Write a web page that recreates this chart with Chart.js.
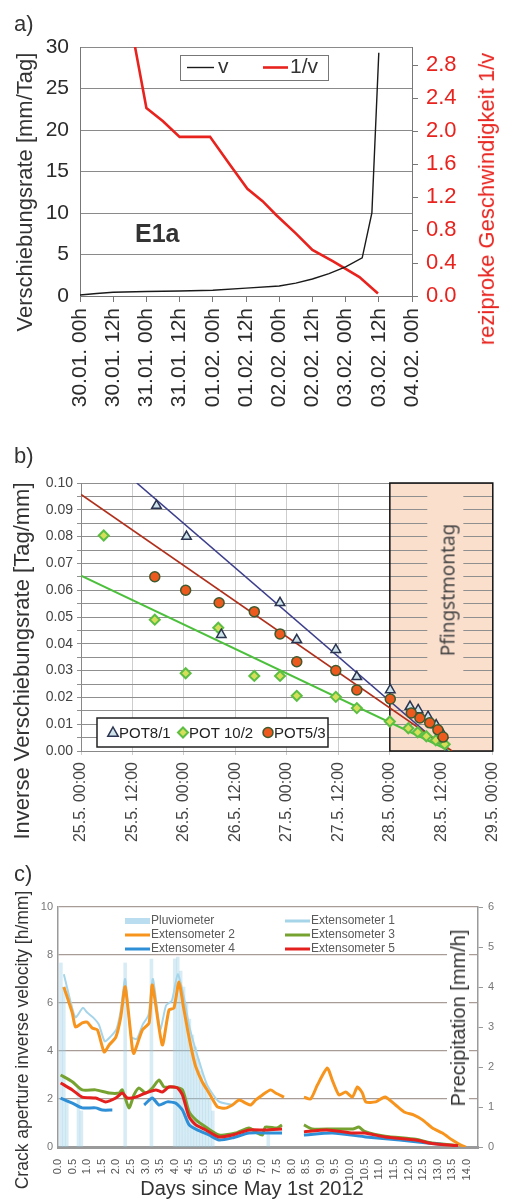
<!DOCTYPE html>
<html>
<head>
<meta charset="utf-8">
<script src="https://cdn.jsdelivr.net/npm/chart.js@4.4.1/dist/chart.umd.min.js"></script>
<style>
  html, body { margin: 0; padding: 0; background: #fff; }
  body { width: 519px; height: 1199px; position: relative; overflow: hidden; font-family: "Liberation Sans", Arial, sans-serif; color: #333; }
  canvas { position: absolute; left: 0; }
  .txt { position: absolute; white-space: nowrap; line-height: 1.1; }
  .rot { position: absolute; white-space: nowrap; line-height: 1.1; transform: translate(-50%, -50%) rotate(-90deg); }
</style>
</head>
<body>
<canvas id="chartA" style="top:0" width="519" height="430"></canvas>
<canvas id="chartB" style="top:440px" width="519" height="430"></canvas>
<canvas id="chartC" style="top:870px" width="519" height="329"></canvas>

<div class="txt" style="left:14px;top:12px;font-size:22px;">a)</div>
<div class="rot" style="left:25px;top:192px;font-size:22px;">Verschiebungsrate [mm/Tag]</div>
<div class="rot" style="left:487px;top:199px;font-size:22px;color:#e8231e;">reziproke Geschwindigkeit 1/v</div>
<div class="txt" style="left:135px;top:220px;font-size:25px;font-weight:bold;">E1a</div>

<div class="txt" style="left:14px;top:444px;font-size:22px;">b)</div>
<div class="rot" style="left:22px;top:661px;font-size:22px;">Inverse Verschiebungsrate [Tag/mm]</div>
<div class="rot" style="left:448px;top:590px;font-size:19px;font-family:'Noto Sans',sans-serif;color:#444;">Pfingstmontag</div>

<div class="txt" style="left:14px;top:862px;font-size:22px;">c)</div>
<div class="rot" style="left:23px;top:1040px;font-size:17.5px;">Crack aperture inverse velocity [h/mm]</div>
<div class="rot" style="left:458px;top:1018px;font-size:20px;background:#fff;padding:0 6px;">Precipitation [mm/h]</div>
<div class="txt" style="left:252px;top:1188px;font-size:20px;transform:translate(-50%,-50%);">Days since May 1st 2012</div>

<script>
// ---- a) E1a: velocity and inverse velocity (hours since 30.01. 00h)
const aTickLabels = ['30.01. 00h', '30.01. 12h', '31.01. 00h', '31.01. 12h', '01.02. 00h', '01.02. 12h',
  '02.02. 00h', '02.02. 12h', '03.02. 00h', '03.02. 12h', '04.02. 00h'];
const aRightTicks = [0, 0.4, 0.8, 1.2, 1.6, 2.0, 2.4, 2.8];
const vHours = [0, 6, 12, 24, 36, 48, 60, 72, 78, 84, 90, 96, 102, 105.5, 108];
const vValues = [0.12, 0.3, 0.45, 0.55, 0.6, 0.7, 0.95, 1.2, 1.55, 2.05, 2.7, 3.5, 4.6, 10, 29.3];
const invHours = [19.9, 24, 30, 36, 47, 54, 60.5, 66, 71, 78, 84, 91.5, 101, 107.7];
const invValues = [3.02, 2.28, 2.12, 1.93, 1.93, 1.6, 1.3, 1.15, 0.98, 0.76, 0.56, 0.42, 0.23, 0.03];

// ---- b) inverse velocity of the potentiometers (hours since 25.5. 00:00)
const bTickLabels = ['25.5. 00:00', '25.5. 12:00', '26.5. 00:00', '26.5. 12:00', '27.5. 00:00',
  '27.5. 12:00', '28.5. 00:00', '28.5. 12:00', '29.5. 00:00'];
const pot81Hours = [17.6, 24.6, 32.7, 46.4, 50.3, 59.4, 64.3, 72.1, 76.7, 78.6, 80.9, 82.8, 84.4];
const pot81Values = [0.0916, 0.080, 0.0434, 0.0553, 0.0415, 0.0378, 0.0277, 0.0228, 0.0166, 0.0153, 0.0128, 0.0097, 0.006];
const pot102Hours = [5.3, 17.2, 24.4, 32.0, 40.4, 46.4, 50.3, 59.4, 64.3, 72.0, 76.3, 78.5, 80.5, 82.7, 84.8];
const pot102Values = [0.0804, 0.049, 0.029, 0.046, 0.028, 0.028, 0.0206, 0.0202, 0.016, 0.011, 0.0085, 0.007, 0.0055, 0.004, 0.0025];
const pot53Hours = [17.2, 24.4, 32.2, 40.4, 46.4, 50.3, 59.4, 64.3, 72.1, 77.0, 79.0, 81.3, 83.2, 84.4];
const pot53Values = [0.065, 0.060, 0.0553, 0.052, 0.0437, 0.0333, 0.030, 0.0228, 0.0194, 0.0142, 0.0123, 0.0105, 0.0079, 0.0052];
const trend81Hours = [13, 85.5];
const trend81Values = [0.1, 0];
const trend53Hours = [0, 86.5];
const trend53Values = [0.0957, 0];
const trend102Hours = [0, 86];
const trend102Values = [0.0654, 0];
const holidayStart = 72; // 28.5. 00:00
const holidayEnd = 96;   // 29.5. 00:00

// ---- c) crack aperture inverse velocity and rain (days since May 1st 2012)
const cLastTick = 14;
const plDays = [0.1, 0.2, 0.3, 0.7, 0.8, 2.3, 3.2, 4.0, 4.1, 4.2, 4.3, 4.4, 4.5, 4.6, 4.7, 4.8, 4.9, 5.0, 5.1, 5.2, 5.3, 7.2];
const plVals = [4.6, 4.0, 1.2, 1.5, 0.9, 4.6, 4.7, 4.7, 4.75, 4.4, 4.0, 3.6, 3.2, 2.8, 2.5, 2.2, 1.9, 1.6, 1.4, 1.2, 0.9, 0.5];
const ext1Days = [0.2, 0.4, 0.6, 0.85, 1.0, 1.2, 1.4, 1.6, 1.8, 2.0, 2.15, 2.3, 2.5, 2.7, 2.9, 3.1, 3.25, 3.5, 3.7, 3.9, 4.1, 4.3, 4.5, 4.8, 5.1, 5.5, 6.0];
const ext1Vals = [7.2, 6.2, 5.4, 5.8, 5.6, 5.4, 5.1, 4.4, 4.6, 4.9, 5.7, 7.0, 4.6, 4.5, 5.1, 5.5, 7.0, 4.9, 5.9, 6.1, 7.2, 6.3, 5.0, 3.7, 2.6, 1.9, 1.75];
const ext2Days = [0.2, 0.49, 0.6, 0.83, 1.0, 1.17, 1.35, 1.58, 1.75, 1.98, 2.15, 2.3, 2.55, 2.6, 2.89, 3.12, 3.23, 3.57,
  3.8, 3.97, 4.14, 4.3, 4.45, 4.6, 4.72, 4.94, 5.17, 5.46, 5.74, 5.97, 6.2, 6.43, 6.6, 6.77, 7.0, 7.28, 7.45, 7.74,
  8.0, 8.42, 8.65, 8.88, 9.22, 9.39, 9.62, 9.85, 10.08, 10.25, 10.42, 10.54, 10.88, 11.1, 11.22, 11.56, 11.85, 12.19,
  12.48, 12.82, 13.16, 13.5, 13.79, 13.96];
const ext2Vals = [6.67, 5.58, 5.0, 5.17, 5.2, 4.96, 4.88, 3.96, 4.25, 4.58, 5.42, 6.67, 4.04, 3.9, 4.88, 5.17, 6.75, 4.25,
  5.71, 5.79, 6.88, 5.8, 4.8, 3.9, 3.33, 2.71, 2.25, 1.67, 1.62, 1.75, 1.96, 1.83, 1.75, 1.96, 2.17, 2.38, 2.25, 2.08,
  null, 2.08, 2.0, 2.58, 3.29, 2.79, 2.17, 2.29, 2.08, 2.5, 2.25, 1.88, 1.88, 2.04, 2.08, 1.75, 1.46, 1.33,
  1.13, 0.79, 0.58, 0.29, 0.08, 0.0];
const ext3Days = [0.09, 0.49, 0.83, 1.29, 1.75, 2.09, 2.2, 2.43, 2.6, 2.77, 3.0, 3.23, 3.46, 3.63, 3.97, 4.26, 4.49, 4.72,
  5.06, 5.51, 6.08, 6.54, 6.8, 7.0, 7.1, 7.5, 7.67, 8.0, 8.42, 8.7, 9.4, 10.1, 10.3, 10.5, 11.2, 12.25, 12.8, 13.7];
const ext3Vals = [3.0, 2.72, 2.38, 2.38, 2.25, 2.25, 2.38, 1.63, 2.17, 2.46, 2.25, 2.46, 2.79, 2.5, 2.5, 2.38, 1.46, 1.13,
  0.83, 0.5, 0.58, 0.79, 0.6, 0.5, 0.83, 0.79, 0.92, null, 0.92, 0.75, 0.75, 0.75, 0.83, 0.65, 0.45, 0.32, 0.17, 0.06];
const ext4Days = [0.09, 0.49, 0.83, 1.29, 1.52, 1.86, 2.4, 2.95, 3.23, 3.46, 3.74, 4.03, 4.26, 4.49, 4.77, 5.17, 5.51,
  5.97, 6.54, 7.3, 7.67, 8.0, 8.42, 9.4, 10.54, 11.7, 12.8, 13.2];
const ext4Vals = [2.04, 1.83, 1.63, 1.63, 1.54, 1.54, null, 1.75, 2.04, 1.75, 1.88, 1.83, 1.54, 0.92, 0.71, 0.5, 0.29,
  0.38, 0.58, 0.58, 0.58, null, 0.5, 0.58, 0.42, 0.29, 0.15, 0.1];
const ext5Days = [0.09, 0.49, 0.83, 1.29, 1.63, 1.98, 2.2, 2.37, 2.66, 3.0, 3.35, 3.57, 3.8, 4.09, 4.26, 4.49, 4.72, 5.06,
  5.51, 5.97, 6.54, 7.1, 7.67, 8.0, 8.42, 9.2, 10.1, 10.5, 11.2, 12.25, 12.8, 13.7];
const ext5Vals = [2.67, 2.38, 2.08, 2.04, 1.88, 2.04, 2.25, 2.04, 2.08, 2.25, 2.38, 2.29, 2.5, 2.46, 2.17, 1.25, 0.92, 0.71,
  0.42, 0.5, 0.71, 0.71, 0.75, null, 0.63, 0.71, 0.58, 0.58, 0.42, 0.29, 0.15, 0.05];

const FONT = '"Liberation Sans", Arial, sans-serif';
Chart.defaults.font.family = FONT;

const pts = (xs, ys) => xs.map((x, i) => ({ x: x, y: ys[i] }));

function hLine(ctx, x1, x2, y, color, width) {
  ctx.strokeStyle = color;
  ctx.lineWidth = width;
  ctx.beginPath();
  ctx.moveTo(x1, y);
  ctx.lineTo(x2, y);
  ctx.stroke();
}

function marker(ctx, style, x, y, r, fill, stroke, lw) {
  ctx.fillStyle = fill;
  ctx.strokeStyle = stroke;
  ctx.lineWidth = lw;
  ctx.beginPath();
  if (style === 'triangle') {
    ctx.moveTo(x, y - r);
    ctx.lineTo(x + r * 0.95, y + r * 0.7);
    ctx.lineTo(x - r * 0.95, y + r * 0.7);
    ctx.closePath();
  } else if (style === 'rectRot') {
    ctx.moveTo(x, y - r);
    ctx.lineTo(x + r, y);
    ctx.lineTo(x, y + r);
    ctx.lineTo(x - r, y);
    ctx.closePath();
  } else {
    ctx.arc(x, y, r, 0, Math.PI * 2);
  }
  ctx.fill();
  ctx.stroke();
}

// legend box inside panel a
const legendA = {
  id: 'legendA',
  afterDatasetsDraw(chart) {
    const { ctx, chartArea: ca } = chart;
    const ds = chart.data.datasets;
    const x0 = ca.left + 100, y0 = ca.top + 8, w = 148, h = 25;
    const ym = y0 + h / 2;
    ctx.save();
    ctx.fillStyle = '#fff';
    ctx.fillRect(x0, y0, w, h);
    ctx.strokeStyle = '#777';
    ctx.lineWidth = 1;
    ctx.strokeRect(x0 + 0.5, y0 + 0.5, w, h);
    ctx.font = '21px ' + FONT;
    ctx.textBaseline = 'middle';
    hLine(ctx, x0 + 7, x0 + 34, ym, ds[0].borderColor, 1.4);
    ctx.fillStyle = '#333';
    ctx.fillText(ds[0].label, x0 + 38, ym);
    hLine(ctx, x0 + 83, x0 + 108, ym, ds[1].borderColor, 2.6);
    ctx.fillStyle = '#333';
    ctx.fillText(ds[1].label, x0 + 110, ym);
    ctx.restore();
  }
};

new Chart(document.getElementById('chartA'), {
  type: 'line',
  data: {
    datasets: [
      { label: 'v', data: pts(vHours, vValues), borderColor: '#1a1a1a', borderWidth: 1.4, pointRadius: 0, yAxisID: 'y' },
      { label: '1/v', data: pts(invHours, invValues), borderColor: '#e8231e', borderWidth: 2.6, pointRadius: 0, yAxisID: 'y1' }
    ]
  },
  options: {
    responsive: false,
    animation: false,
    devicePixelRatio: 1,
    layout: { padding: { top: 47, left: 0, right: 0, bottom: 0 } },
    plugins: { legend: { display: false }, tooltip: { enabled: false } },
    scales: {
      x: {
        type: 'linear', min: 0, max: 120,
        afterFit: s => { s.height = 134; },
        ticks: {
          stepSize: 12, autoSkip: false, minRotation: 90, maxRotation: 90, padding: 6,
          color: '#2b2b2b', font: { size: 21 },
          callback: v => aTickLabels[Math.round(v / 12)]
        },
        grid: { drawOnChartArea: false, tickLength: 6, color: '#777' },
        border: { color: '#777' }
      },
      y: {
        position: 'left', min: 0, max: 30,
        afterFit: s => { s.width = 80; },
        ticks: { stepSize: 5, padding: 11, color: '#2b2b2b', font: { size: 21 } },
        grid: { color: '#8a8a8a', drawTicks: false },
        border: { color: '#777' }
      },
      y1: {
        position: 'right', min: 0, max: 3.02,
        afterFit: s => { s.width = 107; },
        afterBuildTicks: s => { s.ticks = aRightTicks.map(v => ({ value: v })); },
        ticks: { padding: 8, color: '#e8231e', font: { size: 22 }, callback: v => v.toFixed(1) },
        grid: { drawOnChartArea: false, tickLength: 6, color: '#777' },
        border: { color: '#777' }
      }
    }
  },
  plugins: [legendA]
});

// Pfingstmontag shading for panel b
const holidayBox = {
  id: 'holidayBox',
  beforeDraw(chart) {
    const { ctx, chartArea: ca, scales: { x } } = chart;
    const x1 = x.getPixelForValue(holidayStart), x2 = x.getPixelForValue(holidayEnd);
    ctx.save();
    ctx.fillStyle = '#fbdfcd';
    ctx.fillRect(x1, ca.top, x2 - x1, ca.bottom - ca.top);
    ctx.restore();
  },
  beforeDatasetsDraw(chart) {
    const { ctx, chartArea: ca, scales: { x, y } } = chart;
    const x1 = x.getPixelForValue(holidayStart), x2 = x.getPixelForValue(holidayEnd);
    const mid = (x1 + x2) / 2 + 4;
    ctx.save();
    ctx.fillStyle = '#fbdfcd';
    ctx.fillRect(mid - 18, ca.top + 2, 36, y.getPixelForValue(0.03) - ca.top);
    ctx.strokeStyle = '#111';
    ctx.lineWidth = 1.5;
    ctx.strokeRect(x1, ca.top, x2 - x1, ca.bottom - ca.top);
    ctx.restore();
  }
};

const legendB = {
  id: 'legendB',
  afterDatasetsDraw(chart) {
    const { ctx, chartArea: ca } = chart;
    const ds = chart.data.datasets;
    const x0 = ca.left + 16, y0 = ca.bottom - 33, w = 231, h = 29;
    const ym = y0 + h / 2;
    ctx.save();
    ctx.fillStyle = '#fff';
    ctx.fillRect(x0, y0, w, h);
    ctx.strokeStyle = '#222';
    ctx.lineWidth = 1.5;
    ctx.strokeRect(x0, y0, w, h);
    ctx.font = '15px ' + FONT;
    ctx.textBaseline = 'middle';
    const slots = [16, 86, 171];
    for (let i = 0; i < 3; i++) {
      const d = ds[i];
      marker(ctx, d.pointStyle, x0 + slots[i], ym, d.pointRadius, d.backgroundColor, d.borderColor, d.borderWidth);
      ctx.fillStyle = '#222';
      ctx.fillText(d.label, x0 + slots[i] + 6, ym + 1);
    }
    ctx.restore();
  }
};

new Chart(document.getElementById('chartB'), {
  type: 'scatter',
  data: {
    datasets: [
      { label: 'POT8/1', data: pts(pot81Hours, pot81Values), pointStyle: 'triangle', pointRadius: 5.5,
        backgroundColor: '#cfe3ea', borderColor: '#2b3450', borderWidth: 1.5, order: 1 },
      { label: 'POT 10/2', data: pts(pot102Hours, pot102Values), pointStyle: 'rectRot', pointRadius: 5,
        backgroundColor: '#d6de5a', borderColor: '#5cbf44', borderWidth: 2, order: 2 },
      { label: 'POT5/3', data: pts(pot53Hours, pot53Values), pointStyle: 'circle', pointRadius: 5,
        backgroundColor: '#ec5a1e', borderColor: '#3f5a2e', borderWidth: 1.5, order: 0 },
      { label: 'trend POT8/1', data: pts(trend81Hours, trend81Values), showLine: true, pointRadius: 0,
        borderColor: '#3d3f8c', borderWidth: 1.6, order: 5 },
      { label: 'trend POT 10/2', data: pts(trend102Hours, trend102Values), showLine: true, pointRadius: 0,
        borderColor: '#4cc03c', borderWidth: 2, order: 6 },
      { label: 'trend POT5/3', data: pts(trend53Hours, trend53Values), showLine: true, pointRadius: 0,
        borderColor: '#b0301c', borderWidth: 1.6, order: 4 }
    ]
  },
  options: {
    responsive: false,
    animation: false,
    devicePixelRatio: 1,
    layout: { padding: { top: 43, right: 24, left: 0, bottom: 0 } },
    plugins: { legend: { display: false }, tooltip: { enabled: false } },
    scales: {
      x: {
        type: 'linear', min: 0, max: 96,
        afterFit: s => { s.height = 119; },
        ticks: {
          stepSize: 12, autoSkip: false, minRotation: 90, maxRotation: 90, padding: 7,
          color: '#444', font: { size: 16 },
          callback: v => bTickLabels[Math.round(v / 12)]
        },
        grid: {
          tickLength: 4,
          color: c => (c.tick && c.tick.value > holidayStart && c.tick.value < holidayEnd) ? 'rgba(0,0,0,0)' : '#cdcdcd'
        },
        border: { color: '#888' }
      },
      y: {
        min: 0, max: 0.1,
        afterFit: s => { s.width = 81; },
        ticks: {
          stepSize: 0.005, autoSkip: false, padding: 4, color: '#444', font: { size: 14 },
          callback: v => Math.abs(v * 100 - Math.round(v * 100)) < 1e-6 ? v.toFixed(2) : ''
        },
        grid: { color: '#8f8f8f', tickLength: 4 },
        border: { color: '#888' }
      }
    }
  },
  plugins: [holidayBox, legendB]
});

// two-column legend of panel c
const legendC = {
  id: 'legendC',
  afterDatasetsDraw(chart) {
    const { ctx, chartArea: ca } = chart;
    const ds = chart.data.datasets;
    ctx.save();
    ctx.font = '12px ' + FONT;
    ctx.textBaseline = 'middle';
    ds.forEach((d, i) => {
      const row = Math.floor(i / 2), col = i % 2;
      const y = ca.top + 14 + row * 14;
      const lx = ca.left + (col === 0 ? 67 : 227);
      const color = d.type === 'bar' ? 'rgba(140,200,228,0.6)' : d.borderColor;
      hLine(ctx, lx, lx + 25, y, color, d.type === 'bar' ? 6 : 3);
      ctx.fillStyle = '#5a5a5a';
      ctx.fillText(d.label, lx + 26, y);
    });
    ctx.restore();
  }
};

const lineOpts = { pointRadius: 0, tension: 0.2, spanGaps: false, yAxisID: 'y' };

new Chart(document.getElementById('chartC'), {
  type: 'line',
  data: {
    datasets: [
      { type: 'bar', label: 'Pluviometer', data: pts(plDays, plVals), yAxisID: 'yR',
        backgroundColor: 'rgba(150,205,230,0.38)', barPercentage: 1, categoryPercentage: 1, order: 6 },
      Object.assign({ label: 'Extensometer 1', data: pts(ext1Days, ext1Vals), borderColor: '#a6d5ea', borderWidth: 2, order: 5 }, lineOpts),
      Object.assign({ label: 'Extensometer 2', data: pts(ext2Days, ext2Vals), borderColor: '#f7941d', borderWidth: 3, order: 4 }, lineOpts),
      Object.assign({ label: 'Extensometer 3', data: pts(ext3Days, ext3Vals), borderColor: '#76a232', borderWidth: 3, order: 3 }, lineOpts),
      Object.assign({ label: 'Extensometer 4', data: pts(ext4Days, ext4Vals), borderColor: '#2f8fd6', borderWidth: 3, order: 2 }, lineOpts),
      Object.assign({ label: 'Extensometer 5', data: pts(ext5Days, ext5Vals), borderColor: '#e4201f', borderWidth: 3, order: 1 }, lineOpts)
    ]
  },
  options: {
    responsive: false,
    animation: false,
    devicePixelRatio: 1,
    layout: { padding: { top: 37, left: 0, right: 0, bottom: 0 } },
    plugins: { legend: { display: false }, tooltip: { enabled: false } },
    scales: {
      x: {
        type: 'linear', min: 0, max: 14.38, offset: false,
        afterFit: s => { s.height = 52; },
        afterBuildTicks: s => {
          const ticks = [];
          for (let v = 0; v <= cLastTick + 1e-9; v += 0.5) ticks.push({ value: v });
          s.ticks = ticks;
        },
        ticks: {
          autoSkip: false, minRotation: 90, maxRotation: 90, padding: 4,
          color: '#555', font: { size: 11 }, callback: v => v.toFixed(1)
        },
        grid: { display: false, offset: false },
        border: { color: '#9a9a9a', width: 3 }
      },
      y: {
        position: 'left', min: 0, max: 10,
        afterFit: s => { s.width = 58; },
        ticks: { stepSize: 2, padding: 5, color: '#777', font: { size: 11 } },
        grid: { color: '#a89d96', lineWidth: 1.3, drawTicks: false },
        border: { color: '#9a9a9a', width: 1.5 }
      },
      yR: {
        position: 'right', min: 0, max: 6,
        afterFit: s => { s.width = 41; },
        ticks: { stepSize: 1, padding: 5, color: '#777', font: { size: 11 } },
        grid: { drawOnChartArea: false, tickLength: 5, color: '#9a9a9a' },
        border: { color: '#9a9a9a', width: 1.5 }
      }
    }
  },
  plugins: [legendC]
});
</script>
</body>
</html>
